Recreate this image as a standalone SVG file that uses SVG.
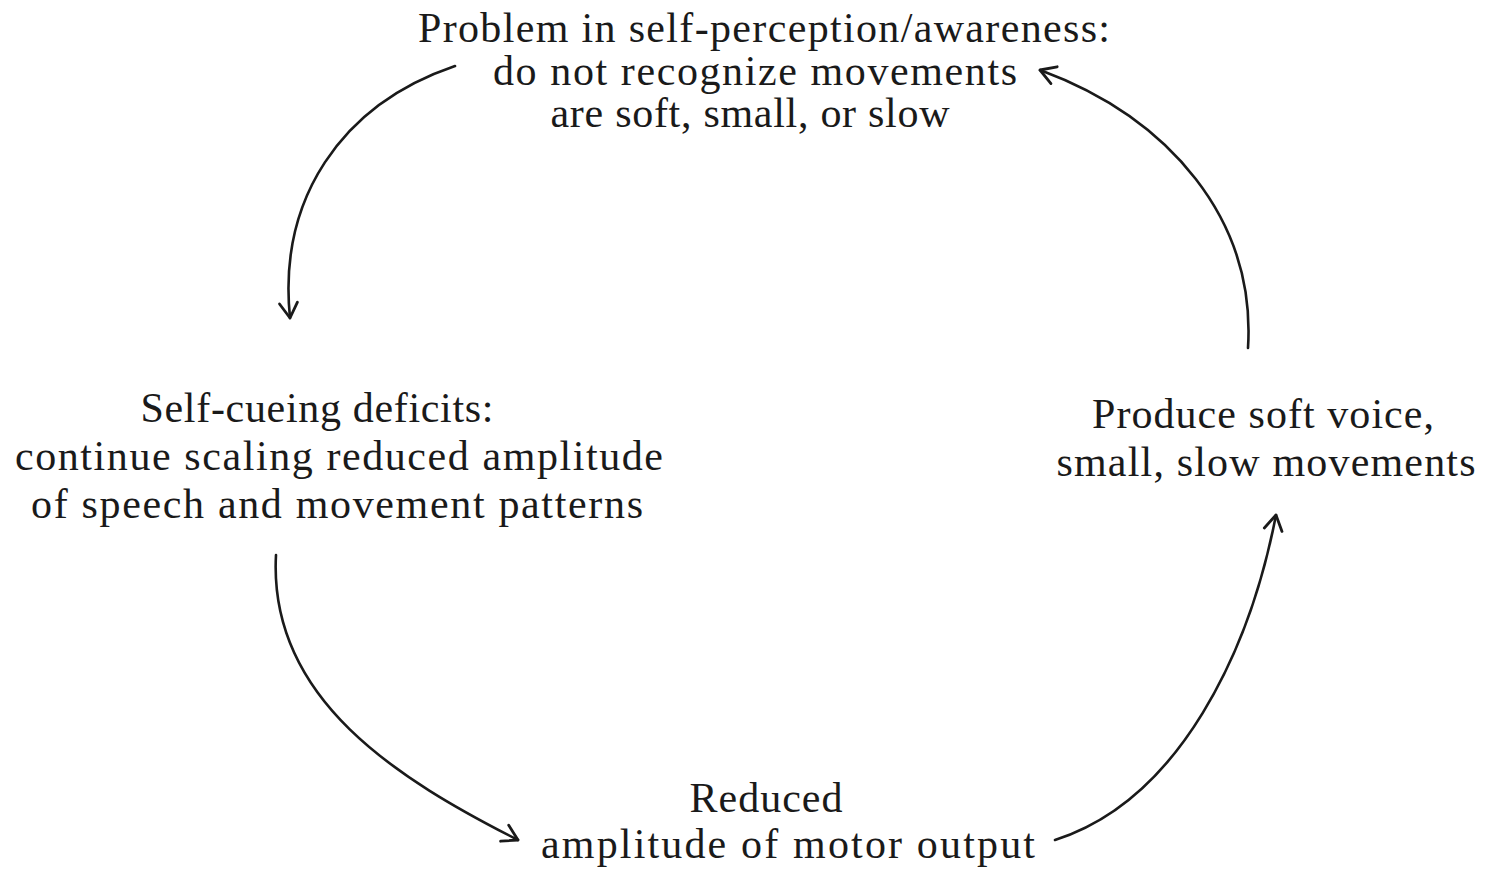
<svg xmlns="http://www.w3.org/2000/svg" width="1486" height="869" viewBox="0 0 1486 869">
<defs>
<style>
text{font-family:"Liberation Serif","Times New Roman",serif;font-size:42px;fill:#1a1a1a;text-anchor:middle}
.c{fill:none;stroke:#1a1a1a;stroke-width:2.6;stroke-linecap:round}
</style>
<marker id="ah" viewBox="0 0 22 22" refX="18" refY="11" markerWidth="22" markerHeight="22" markerUnits="userSpaceOnUse" orient="auto">
<path d="M3,2 L18,11 L3,20" fill="none" stroke="#1a1a1a" stroke-width="2.8" stroke-linecap="round" stroke-linejoin="round"/>
</marker>
</defs>
<rect width="1486" height="869" fill="#fff"/>
<g id="connectors">
<path class="c" d="M455,66 C340,105 278,200 290,318" marker-end="url(#ah)"/>
<path class="c" d="M276,555 C268,700 400,780 518,840" marker-end="url(#ah)"/>
<path class="c" d="M1055,840 C1180,800 1250,650 1276,515" marker-end="url(#ah)"/>
<path class="c" d="M1248,348 C1256,220 1170,118 1040,70" marker-end="url(#ah)"/>
</g>
<g id="node-top">
<text x="764" y="42" textLength="692" lengthAdjust="spacing">Problem in self-perception/awareness:</text>
<text x="755" y="85" textLength="524" lengthAdjust="spacing">do not recognize movements</text>
<text x="750" y="127" textLength="399" lengthAdjust="spacing">are soft, small, or slow</text>
</g>
<g id="node-left">
<text x="317" y="422" textLength="353" lengthAdjust="spacing">Self-cueing deficits:</text>
<text x="339" y="470" textLength="648" lengthAdjust="spacing">continue scaling reduced amplitude</text>
<text x="337" y="518" textLength="612" lengthAdjust="spacing">of speech and movement patterns</text>
</g>
<g id="node-right">
<text x="1263" y="428" textLength="342" lengthAdjust="spacing">Produce soft voice,</text>
<text x="1266" y="476" textLength="419" lengthAdjust="spacing">small, slow movements</text>
</g>
<g id="node-bottom">
<text x="766" y="812" textLength="153" lengthAdjust="spacing">Reduced</text>
<text x="788" y="858" textLength="494" lengthAdjust="spacing">amplitude of motor output</text>
</g>
</svg>
